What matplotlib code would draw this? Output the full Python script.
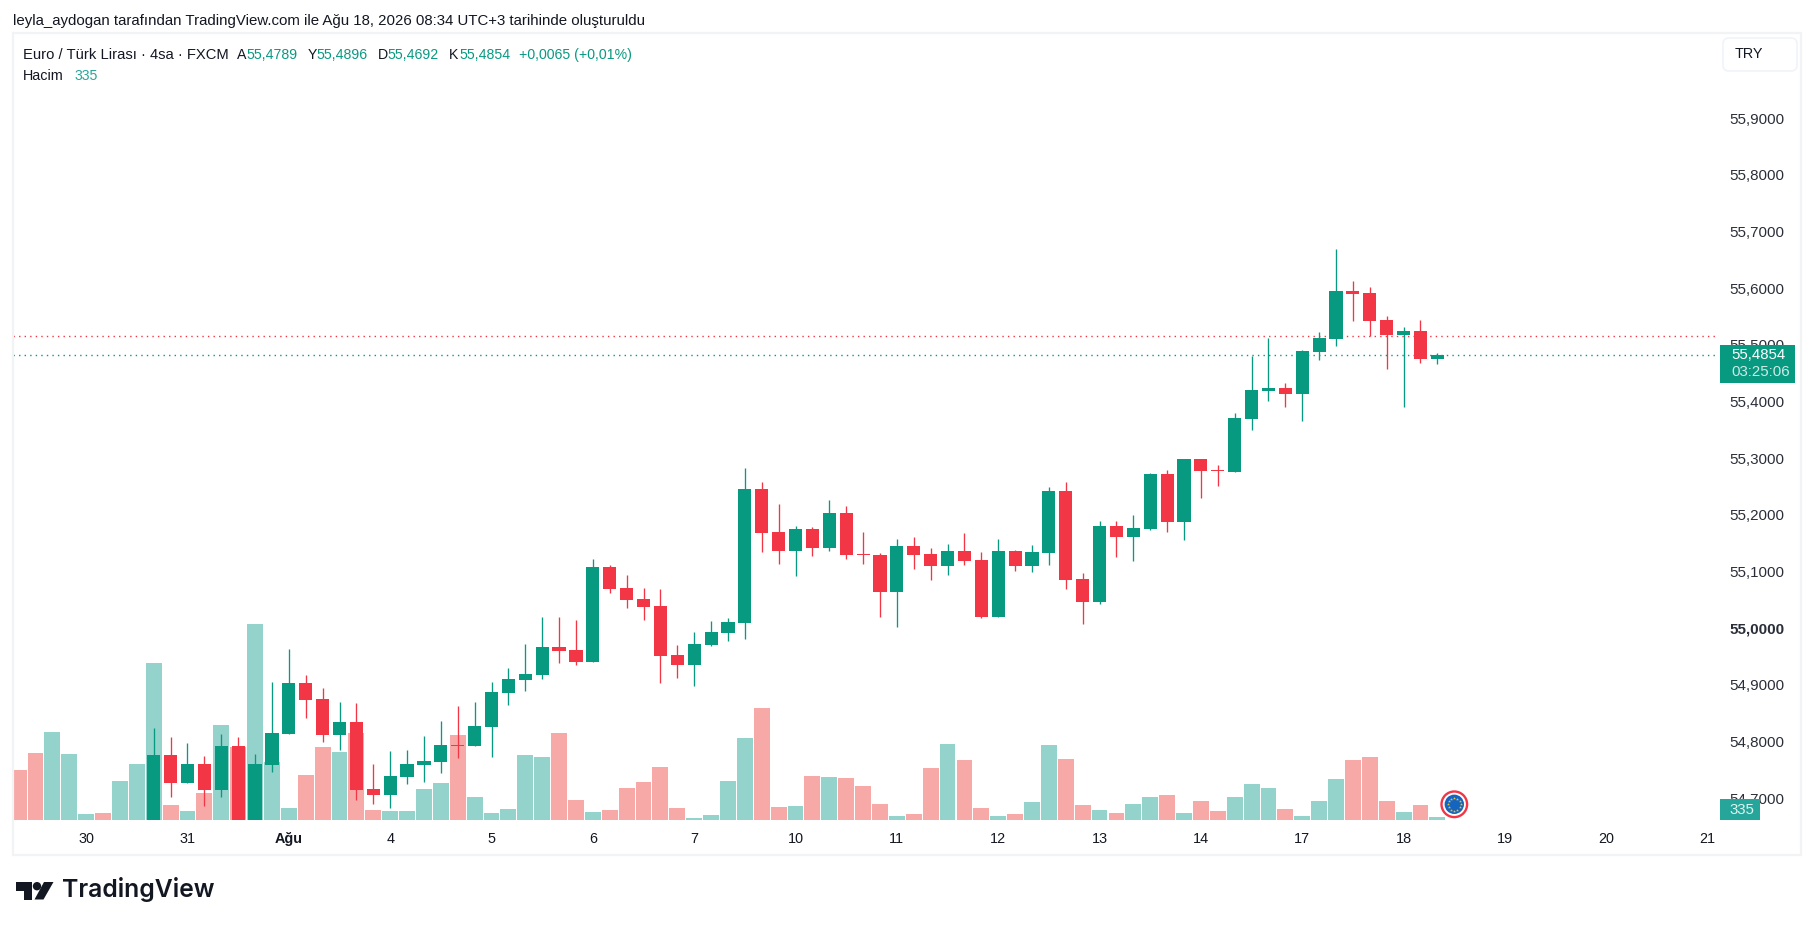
import numpy as np
import matplotlib
matplotlib.use("Agg")
import matplotlib.pyplot as plt
from matplotlib.patches import Rectangle, Polygon, Circle, FancyBboxPatch
from matplotlib.ticker import FuncFormatter
from matplotlib.transforms import ScaledTranslation

# bar number of the first candle, the older ones are below the visible range
first_candle = 8

opens = [54.62, 54.7802, 54.7308, 54.7643, 54.7184, 54.7961, 54.63, 54.7625, 54.8172, 54.9072,
         54.8790, 54.8155, 54.8384, 54.7202, 54.7096, 54.7414, 54.7625, 54.7678, 54.7972, 54.7961,
         54.8296, 54.8895, 54.9125, 54.9213, 54.9707, 54.9654, 54.9442, 55.1119, 55.0748, 55.0554,
         55.0431, 54.9566, 54.9390, 54.9743, 54.9954, 55.0131, 55.2495, 55.1736, 55.1401, 55.1789,
         55.1454, 55.2071, 55.1348, 55.1330, 55.0678, 55.1489, 55.1348, 55.1136, 55.1401, 55.1242,
         55.0237, 55.1401, 55.1136, 55.1366, 55.2459, 55.0907, 55.0501, 55.1842, 55.1648, 55.1789,
         55.2759, 55.1913, 55.3024, 55.2824, 55.2797, 55.3732, 55.4226, 55.4278, 55.4173, 55.4914,
         55.5143, 55.5990, 55.5954, 55.5478, 55.5213, 55.5284, 55.4789]
highs = [54.8272, 54.8119, 54.8013, 54.7784, 54.8172, 54.8119, 54.7819, 54.9090, 54.9672, 54.9213,
         54.8984, 54.8737, 54.8719, 54.7643, 54.7872, 54.7890, 54.8137, 54.8402, 54.8666, 54.8737,
         54.9090, 54.9336, 54.9760, 55.0236, 55.0236, 55.0183, 55.1259, 55.1154, 55.0978, 55.0748,
         55.0731, 54.9743, 54.9972, 55.0166, 55.0219, 55.2865, 55.2618, 55.2230, 55.1842, 55.1824,
         55.2301, 55.2195, 55.1736, 55.1366, 55.1613, 55.1648, 55.1454, 55.1524, 55.1718, 55.1383,
         55.1613, 55.1419, 55.1507, 55.2530, 55.2618, 55.1013, 55.1930, 55.1930, 55.2036, 55.2777,
         55.2830, 55.3024, 55.3024, 55.2918, 55.3837, 55.4843, 55.5160, 55.4367, 55.4949, 55.5266,
         55.6730, 55.6166, 55.6060, 55.5549, 55.5355, 55.5478, 55.4896]
lows = [54.60, 54.7061, 54.7308, 54.6902, 54.7061, 54.61, 54.61, 54.7502, 54.8172, 54.8454,
        54.8031, 54.7890, 54.7008, 54.6937, 54.6867, 54.7290, 54.7326, 54.7484, 54.7749, 54.7961,
        54.7767, 54.8684, 54.8931, 54.9142, 54.9425, 54.9389, 54.9442, 55.0660, 55.0395, 55.0184,
        54.9072, 54.9161, 54.9020, 54.9725, 54.9813, 54.9849, 55.1383, 55.1172, 55.0960, 55.1313,
        55.1401, 55.1260, 55.1172, 55.0237, 55.0060, 55.1083, 55.0889, 55.0978, 55.1154, 55.0219,
        55.0237, 55.1048, 55.1031, 55.1154, 55.0731, 55.0113, 55.0466, 55.1295, 55.1225, 55.1771,
        55.1736, 55.1595, 55.2336, 55.2548, 55.2797, 55.3538, 55.4049, 55.3943, 55.3696, 55.4772,
        55.5019, 55.5460, 55.5196, 55.4614, 55.3943, 55.4719, 55.4692]
closes = [54.7802, 54.7308, 54.7643, 54.7184, 54.7961, 54.63, 54.7643, 54.8190, 54.9072, 54.8772,
          54.8155, 54.8384, 54.7184, 54.7096, 54.7431, 54.7643, 54.7696, 54.7978, 54.7961, 54.8313,
          54.8913, 54.9142, 54.9231, 54.9707, 54.9636, 54.9442, 55.1118, 55.0731, 55.0537, 55.0413,
          54.9549, 54.9390, 54.9760, 54.9972, 55.0149, 55.2495, 55.1718, 55.1401, 55.1789, 55.1454,
          55.2071, 55.1330, 55.1330, 55.0678, 55.1489, 55.1330, 55.1136, 55.1401, 55.1225, 55.0237,
          55.1401, 55.1136, 55.1383, 55.2459, 55.0889, 55.0501, 55.1842, 55.1648, 55.1807, 55.2759,
          55.1913, 55.3024, 55.2812, 55.2812, 55.3749, 55.4243, 55.4278, 55.4173, 55.4931, 55.5160,
          55.5990, 55.5937, 55.5460, 55.5213, 55.5284, 55.4790, 55.4854]

volumes = [5585, 7484, 9830, 7372, 670, 782, 4356, 6255, 17537, 1676, 1005, 3016, 10612, 8154, 21893,
           6479, 1340, 5027, 8154, 7596, 9718, 1117, 1005, 1005, 3463, 4133, 9495, 2569, 782, 1229,
           7261, 7037, 9718, 2234, 894, 1117, 3574, 4245, 5920, 1340, 223, 559, 4356, 9160, 12510,
           1452, 1564, 4915, 4803, 4691, 3798, 1787, 447, 670, 5808, 8489, 6702, 1340, 447, 670,
           2011, 8378, 6814, 1676, 1117, 782, 1787, 2569, 2793, 782, 2122, 1005, 2569, 4021, 3574,
           1229, 447, 2122, 4580, 6702, 7037, 2122, 894, 1676, 335]
# direction of the bars that have no candle on screen
early_up = [False, False, True, True, True, False, True, True]

day_ticks = [4, 10, 16, 22, 28, 34, 40, 46, 52, 58, 64, 70, 76, 82, 88, 94, 100]
day_labels = ["30", "31", "Ağu", "4", "5", "6", "7", "10", "11", "12", "13", "14", "17", "18", "19", "20", "21"]
price_ticks = [54.7, 54.8, 54.9, 55.0, 55.1, 55.2, 55.3, 55.4, 55.5, 55.6, 55.7, 55.8, 55.9]
last_price = 55.4854
prev_price = 55.5190

UP = "#089981"
DOWN = "#F23645"
VOL_UP = "#94D3CC"
VOL_DOWN = "#F7A9A7"
TEXT = "#131722"
FONT = "Liberation Sans"

W, H = 1814, 930
PANE = (13, 1719, 33, 820)  # left, right, top, bottom in pixels
px_per_bar = 16.89
px_per_price = 566.7
px_per_vol = 1 / 111.7
x0_px = 18.6

plt.rcParams["font.family"] = FONT
fig = plt.figure(figsize=(W / 100, H / 100), dpi=100, facecolor="white")
ax = fig.add_axes([PANE[0] / W, 1 - PANE[3] / H, (PANE[1] - PANE[0]) / W, (PANE[3] - PANE[2]) / H])
ax.set_xlim((PANE[0] - x0_px) / px_per_bar, (PANE[1] - x0_px) / px_per_bar)
ax.set_ylim(last_price - (PANE[3] - 355.3) / px_per_price, last_price + (355.3 - PANE[2]) / px_per_price)
for s in ax.spines.values():
    s.set_visible(False)

# volume on its own scale, same pane
ax_vol = ax.twinx()
ax_vol.set_ylim(0, (PANE[3] - PANE[2]) / px_per_vol)
ax_vol.axis("off")
ax_vol.set_zorder(1)
ax.set_zorder(2)
ax.patch.set_visible(False)

vol_x = np.arange(len(volumes))
vol_up = list(early_up) + [c >= o for o, c in zip(opens, closes)]
ax_vol.bar(vol_x, volumes, width=0.94, color=[VOL_UP if u else VOL_DOWN for u in vol_up], linewidth=0)

# candles
cx = first_candle + np.arange(len(opens))
o = np.array(opens)
c = np.array(closes)
colors = [UP if b >= a else DOWN for a, b in zip(opens, closes)]
ax.vlines(cx, lows, highs, colors=colors, linewidth=0.95, zorder=3)
body_low = np.minimum(o, c)
body_h = np.maximum(np.abs(c - o), 1.2 / px_per_price)
ax.bar(cx, body_h, bottom=body_low, width=0.78, color=colors, linewidth=0, zorder=4)

# last and previous close
ax.axhline(prev_price, color=DOWN, linewidth=1, linestyle=(0, (1, 3)), zorder=2)
ax.axhline(last_price, color=UP, linewidth=1, linestyle=(0, (1, 3)), zorder=2)

ax.xaxis.set_ticks(day_ticks, day_labels)
ax.yaxis.tick_right()
ax.set_yticks(price_ticks)
ax.yaxis.set_major_formatter(FuncFormatter(lambda v, _: f"{v:.4f}".replace(".", ",")))
ax.tick_params(axis="x", length=0, pad=8.5, labelsize=10.4, labelcolor=TEXT)
ax.tick_params(axis="y", length=0, pad=7.6, labelsize=10.9, labelcolor="#2a2e39")
for t in ax.get_xticklabels():
    if t.get_text() == "Ağu":
        t.set_fontweight("bold")
# price labels sit a little above their level in the reference
lift = ScaledTranslation(0, 2.3 / 100, fig.dpi_scale_trans)
for t, v in zip(ax.get_yticklabels(), price_ticks):
    t.set_transform(t.get_transform() + lift)
    if v == 55.0:
        t.set_fontweight("bold")

# overlay in pixel coordinates for the page furniture
over = fig.add_axes([0, 0, 1, 1], zorder=5)
over.set_xlim(0, W)
over.set_ylim(H, 0)
over.axis("off")
over.patch.set_visible(False)

over.add_patch(Rectangle((12.5, 33), 1788.5, 822, fill=False, edgecolor="#F2F3F5", linewidth=1.6))
over.text(13, 24.5, "leyla_aydogan tarafından TradingView.com ile Ağu 18, 2026 08:34 UTC+3 tarihinde oluşturuldu",
          fontsize=10.8, color=TEXT, va="baseline")

legend_y = 59
over.text(23, legend_y, "Euro / Türk Lirası · 4sa · FXCM", fontsize=10.6, color=TEXT, va="baseline")
for x, letter, x_val, val in [(237, "A", 246, "55,4789"), (308, "Y", 316.5, "55,4896"),
                              (378, "D", 387.5, "55,4692"), (449, "K", 459, "55,4854")]:
    over.text(x, legend_y, letter, fontsize=10.2, color=TEXT, va="baseline")
    over.text(x_val, legend_y, val, fontsize=10.2, color=UP, va="baseline")
over.text(519, legend_y, "+0,0065 (+0,01%)", fontsize=10.2, color=UP, va="baseline")
over.text(23, 80, "Hacim", fontsize=10.4, color=TEXT, va="baseline")
over.text(74.5, 80, "335", fontsize=10.2, color="#26A69A", va="baseline")

# currency button
over.add_patch(FancyBboxPatch((1727, 42), 66, 25, boxstyle="round,pad=4,rounding_size=6",
                              facecolor="white", edgecolor="#F0F3FA", linewidth=1.2))
over.text(1735, 54.5, "TRY", fontsize=10.4, color=TEXT, va="center")

# price labels on the scale
over.add_patch(Rectangle((1720, 345), 75, 38, facecolor=UP, edgecolor="none"))
over.text(1731, 355, "55,4854", fontsize=10.8, color="white", va="center")
over.text(1731, 372, "03:25:06", fontsize=10.8, color="#CDEBE6", va="center")
over.add_patch(Rectangle((1720, 799), 40, 21, facecolor="#26A69A", edgecolor="none"))
over.text(1742, 810, "335", fontsize=10.8, color="#DDF3F0", va="center", ha="center")

# economic event badge after the last bar
over.add_patch(Circle((1454.3, 804.3), 12.8, facecolor="white", edgecolor=DOWN, linewidth=1.7))
over.add_patch(Circle((1454.3, 804.3), 9.7, facecolor="#1565C0", edgecolor="none"))
for a in np.linspace(0, 2 * np.pi, 12, endpoint=False):
    over.plot(1454.3 + 6.3 * np.cos(a), 804.3 + 6.3 * np.sin(a), marker="*", markersize=2.2,
              color="#E8C53A", markeredgewidth=0)

# logo
over.add_patch(Polygon([(16, 882), (32, 882), (32, 899.5), (23.5, 899.5), (23.5, 891), (16, 891)],
                       facecolor="#131722", edgecolor="none"))
over.add_patch(Circle((37, 886.2), 4.2, facecolor="#131722", edgecolor="none"))
over.add_patch(Polygon([(44, 882), (53.5, 882), (43.5, 899.5), (34.5, 899.5)], facecolor="#131722", edgecolor="none"))
over.text(62, 889.5, "TradingView", fontsize=17.8, fontfamily="Inter", fontweight="semibold", color="#131722", va="center")

fig.savefig("out.png", dpi=100, facecolor="white")
